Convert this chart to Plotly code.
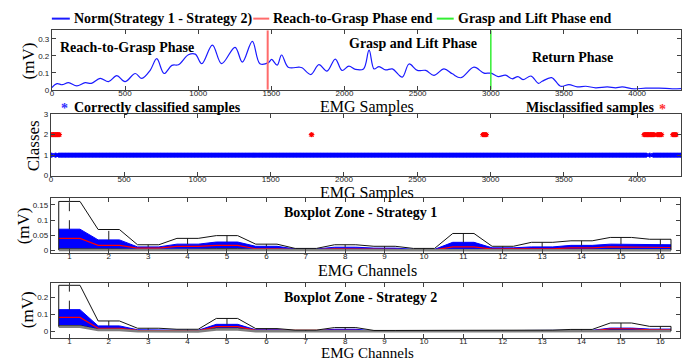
import numpy as np
import plotly.graph_objects as go

W, H = 699, 364

# ---------------- data ----------------
norm_samples = [0, 35, 70, 114, 170, 228, 270, 330, 387, 444, 500, 570, 615, 672, 717, 767, 820, 865,
                933, 980, 1025, 1097, 1160, 1252, 1302, 1370, 1422, 1480, 1502, 1540, 1570, 1615, 1690,
                1710, 1770, 1825, 1880, 1937, 1983, 2030, 2075, 2130, 2168, 2202, 2236, 2281, 2327, 2395,
                2441, 2498, 2555, 2611, 2680, 2737, 2794, 2885, 2953, 3000, 3050, 3100, 3145, 3185, 3220,
                3275, 3325, 3351, 3415, 3477, 3534, 3591, 3648, 3716, 3796, 3853, 3898, 3978, 4058, 4149,
                4240, 4300]
norm_values = [0.013, 0.036, 0.030, 0.042, 0.023, 0.042, 0.038, 0.067, 0.048, 0.083, 0.048, 0.096, 0.067,
               0.115, 0.183, 0.096, 0.144, 0.148, 0.206, 0.210, 0.154, 0.263, 0.154, 0.250, 0.163, 0.285,
               0.154, 0.160, 0.179, 0.145, 0.205, 0.133, 0.133, 0.130, 0.090, 0.148, 0.110, 0.181, 0.114,
               0.139, 0.120, 0.123, 0.233, 0.123, 0.137, 0.117, 0.123, 0.075, 0.152, 0.114, 0.114, 0.085,
               0.123, 0.094, 0.071, 0.133, 0.098, 0.098, 0.078, 0.086, 0.065, 0.078, 0.060, 0.081, 0.038,
               0.050, 0.072, 0.021, 0.031, 0.017, 0.021, 0.012, 0.017, 0.012, 0.017, 0.006, 0.010, 0.010,
               0.006, 0.007]
reach_end = 1475
lift_end = 3000

correct_ranges = [(0, 8), (28, 36), (52, 4065), (4085, 4090), (4108, 4300)]
miscl_ranges = [(0, 60), (1776, 1782), (2946, 2975), (4046, 4118), (4136, 4170), (4242, 4270)]

channels = list(range(1, 17))
s1_max = [0.161, 0.069, 0.019, 0.040, 0.049, 0.021, 0.007, 0.019, 0.014, 0.007, 0.056, 0.014, 0.027, 0.032, 0.043, 0.037]
s1_q3 = [0.070, 0.035, 0.012, 0.021, 0.028, 0.014, 0.005, 0.011, 0.008, 0.004, 0.027, 0.009, 0.012, 0.017, 0.021, 0.019]
s1_med = [0.040, 0.017, 0.008, 0.014, 0.017, 0.006, 0.003, 0.006, 0.004, 0.002, 0.012, 0.005, 0.006, 0.009, 0.012, 0.010]
s1_q1 = [0.006, 0.005, 0.003, 0.004, 0.006, 0.002, 0.001, 0.002, 0.001, 0.001, 0.003, 0.002, 0.002, 0.003, 0.004, 0.003]
s1_min = [0.002, 0.001, 0.001, 0.001, 0.002, 0.001, 0.000, 0.001, 0.000, 0.000, 0.001, 0.001, 0.001, 0.001, 0.001, 0.001]

s2_max = [0.273, 0.062, 0.019, 0.013, 0.077, 0.017, 0.008, 0.023, 0.006, 0.006, 0.007, 0.007, 0.008, 0.012, 0.050, 0.030]
s2_q3 = [0.129, 0.033, 0.010, 0.007, 0.042, 0.010, 0.005, 0.013, 0.003, 0.003, 0.005, 0.004, 0.005, 0.007, 0.020, 0.014]
s2_med = [0.083, 0.019, 0.006, 0.004, 0.029, 0.006, 0.003, 0.007, 0.002, 0.002, 0.003, 0.003, 0.003, 0.004, 0.016, 0.010]
s2_q1 = [0.035, 0.013, 0.003, 0.002, 0.019, 0.003, 0.001, 0.003, 0.001, 0.001, 0.001, 0.001, 0.001, 0.002, 0.008, 0.005]
s2_min = [0.028, 0.008, 0.001, 0.000, 0.012, 0.001, 0.000, 0.001, 0.000, 0.000, 0.000, 0.000, 0.000, 0.000, 0.003, 0.002]

sample_ticks = [0, 500, 1000, 1500, 2000, 2500, 3000, 3500, 4000]

# ---------------- helpers ----------------
SERIF = "Liberation Serif"
SANS = "Liberation Sans"
AX = "#404040"


def px(x):
    return x / W


def py(y):
    return 1 - y / H


def zone(vals, hw=0.27):
    xs, ys = [], []
    for c, v in zip(channels, vals):
        xs += [c - hw, c + hw]
        ys += [v, v]
    return xs, ys


def range_points(ranges, step=4):
    pts = []
    for a, b in ranges:
        pts += list(np.arange(a, b + 1, step))
    return pts


fig = go.Figure()

# Panel 1
fig.add_trace(go.Scatter(x=norm_samples, y=norm_values, mode="lines",
                         line=dict(color="#1a1aff", width=1.2, shape="spline", smoothing=1.0),
                         xaxis="x", yaxis="y", showlegend=False))
fig.add_trace(go.Scatter(x=[reach_end, reach_end], y=[0, 0.35], mode="lines",
                         line=dict(color="#ff6b6b", width=2), xaxis="x", yaxis="y", showlegend=False))
fig.add_trace(go.Scatter(x=[lift_end, lift_end], y=[0, 0.35], mode="lines",
                         line=dict(color="#33ee33", width=1.5), xaxis="x", yaxis="y", showlegend=False))

# Panel 2
cx = range_points(correct_ranges)
fig.add_trace(go.Scatter(x=cx, y=[1] * len(cx), mode="markers",
                         marker=dict(symbol="asterisk-open", size=4, color="#0000ff",
                                     line=dict(color="#0000ff", width=1)),
                         xaxis="x2", yaxis="y2", showlegend=False))
mx = range_points(miscl_ranges, step=3)
fig.add_trace(go.Scatter(x=mx, y=[2] * len(mx), mode="markers",
                         marker=dict(symbol="asterisk-open", size=4, color="#ff0000",
                                     line=dict(color="#ff0000", width=1)),
                         xaxis="x2", yaxis="y2", showlegend=False))


def add_zone(mx_, q3, med, q1, mn, xa, ya):
    hw = 0.27
    x1, y1 = zone(q1, hw)
    x3, y3 = zone(q3, hw)
    fig.add_trace(go.Scatter(x=x1, y=y1, mode="lines", line=dict(color="#111111", width=1),
                             xaxis=xa, yaxis=ya, showlegend=False))
    fig.add_trace(go.Scatter(x=x3, y=y3, mode="lines", line=dict(color="#0000ff", width=1),
                             fill="tonexty", fillcolor="#0000ff", xaxis=xa, yaxis=ya, showlegend=False))
    xm, ym = zone(med, hw)
    fig.add_trace(go.Scatter(x=xm, y=ym, mode="lines", line=dict(color="#ff0000", width=1.2),
                             xaxis=xa, yaxis=ya, showlegend=False))
    xn, yn = zone(mn, hw)
    fig.add_trace(go.Scatter(x=xn, y=yn, mode="lines", line=dict(color="#808080", width=2.5),
                             xaxis=xa, yaxis=ya, showlegend=False))
    # dashed whiskers
    dx, dy = [], []
    for c, a, b in zip(channels, q3, mx_):
        dx += [c, c, None]
        dy += [a, b, None]
    fig.add_trace(go.Scatter(x=dx, y=dy, mode="lines", line=dict(color="#222222", width=1, dash="dash"),
                             xaxis=xa, yaxis=ya, showlegend=False))
    xx, yy = zone(mx_, hw)
    xx = [xx[0]] + xx + [xx[-1]]
    yy = [mn[0]] + yy + [mn[-1]]
    fig.add_trace(go.Scatter(x=xx, y=yy, mode="lines", line=dict(color="#111111", width=1),
                             xaxis=xa, yaxis=ya, showlegend=False))


add_zone(s1_max, s1_q3, s1_med, s1_q1, s1_min, "x3", "y3")
add_zone(s2_max, s2_q3, s2_med, s2_q1, s2_min, "x4", "y4")

tickfont = dict(family=SANS, size=8, color="#222")
common = dict(showline=True, linecolor=AX, linewidth=1, mirror="ticks", ticks="inside",
              ticklen=4, tickcolor=AX, showgrid=False, zeroline=False, tickfont=tickfont)
xcommon = dict(common, ticklabelstandoff=-4)

fig.update_layout(
    width=W, height=H, margin=dict(l=0, r=0, t=0, b=0),
    paper_bgcolor="white", plot_bgcolor="white", showlegend=False,
    xaxis=dict(domain=[px(50), px(681)], range=[0, 4300], tickvals=sample_ticks, anchor="y", **xcommon),
    yaxis=dict(domain=[py(88), py(27)], range=[0, 0.35], tickvals=[0, 0.1, 0.2, 0.3],
               ticktext=["0", "0.1", "0.2", "0.3"], anchor="x", **common),
    xaxis2=dict(domain=[px(49), px(681)], range=[0, 4300], tickvals=sample_ticks, anchor="y2", **xcommon),
    yaxis2=dict(domain=[py(176), py(113)], range=[0, 3], tickvals=[0, 1, 2, 3], anchor="x2", **common),
    xaxis3=dict(domain=[px(49), px(680)], range=[0.53, 16.5], tickvals=channels, anchor="y3", **xcommon),
    yaxis3=dict(domain=[py(255), py(199)], range=[-0.007, 0.172], tickvals=[0, 0.05, 0.1, 0.15],
                ticktext=["0", "0.05", "0.1", "0.15"], anchor="x3", **common),
    xaxis4=dict(domain=[px(49), px(680)], range=[0.53, 16.5], tickvals=channels, anchor="y4", **xcommon),
    yaxis4=dict(domain=[py(342), py(286)], range=[-0.036, 0.287], tickvals=[0, 0.1, 0.2],
                ticktext=["0", "0.1", "0.2"], anchor="x4", **common),
)

ann = []


def text(x, y, s, size=14, bold=True, color="black", xanchor="center", angle=0):
    ann.append(dict(x=px(x), y=py(y), xref="paper", yref="paper", text=(f"<b>{s}</b>" if bold else s),
                    showarrow=False, xanchor=xanchor, yanchor="middle", textangle=angle,
                    font=dict(family=SERIF, size=size, color=color)))


# legend (top)
shapes = []
for x0, x1, col in [(50, 68, "#1a1aff"), (252, 268, "#ff6b6b"), (436, 453, "#33ee33")]:
    shapes.append(dict(type="line", xref="paper", yref="paper", x0=px(x0), x1=px(x1), y0=py(15), y1=py(15),
                       line=dict(color=col, width=2)))
text(70, 15, "Norm(Strategy 1 - Strategy 2)", xanchor="left")
text(270, 15, "Reach-to-Grasp Phase end", xanchor="left")
text(455, 15, "Grasp and Lift Phase end", xanchor="left")

# panel 1 labels
text(125, 45, "Reach-to-Grasp Phase")
text(412, 41, "Grasp and Lift Phase")
text(572, 55, "Return Phase")
text(27, 58, "(mV)", size=17, bold=False, angle=-90)
text(366, 106, "EMG Samples", size=16, bold=False)
text(63, 107, "*", size=14, color="#3030ff")
text(70, 106, "Correctly classified samples", xanchor="left")
text(590, 106, "Misclassified samples")
text(662, 108, "*", size=14, color="#ff3030")

# panel 2
text(32, 145, "Classes", size=17, bold=False, angle=-90)
text(366, 194, "EMG Samples", size=16, bold=False)

# panel 3
text(360, 214, "Boxplot Zone - Strategy 1")
text(21, 227, "(mV)", size=17, bold=False, angle=-90)
text(367, 273, "EMG Channels", size=16, bold=False)

# panel 4
text(360, 301, "Boxplot Zone - Strategy 2")
text(25, 313, "(mV)", size=17, bold=False, angle=-90)
text(367, 357.5, "EMG Channels", size=15, bold=False)

fig.update_layout(annotations=ann, shapes=shapes)
fig.write_html("out.html")
